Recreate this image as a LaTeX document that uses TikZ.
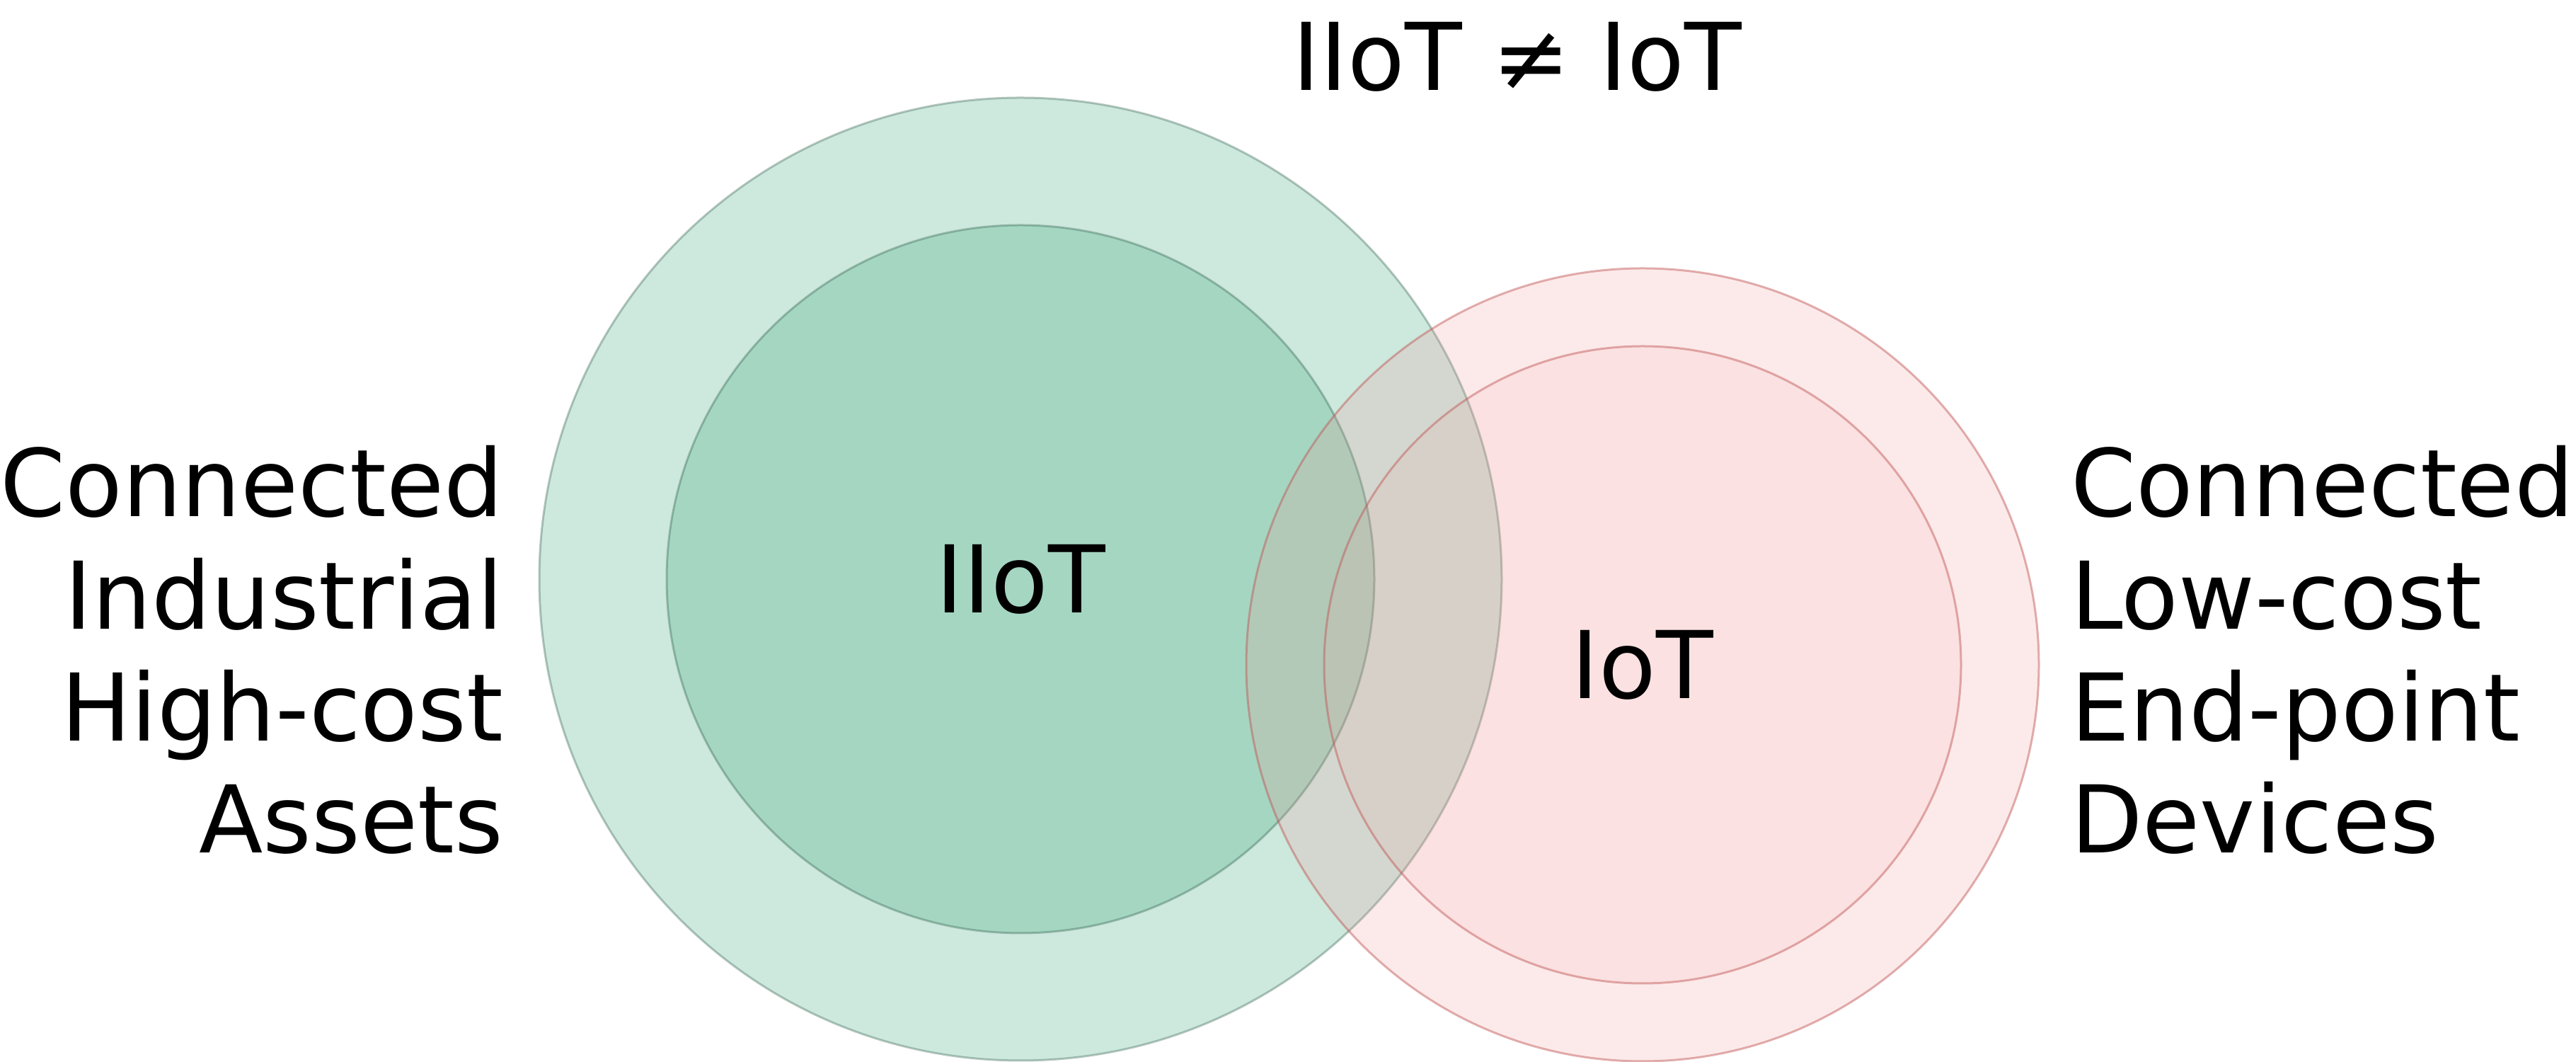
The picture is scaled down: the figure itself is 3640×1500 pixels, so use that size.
\documentclass[tikz,border=0pt]{standalone}
\usepackage{fontspec}
\setmainfont{DejaVu Sans}
\usepackage{xcolor}
\usepackage{tikz}
\usetikzlibrary{positioning}
\definecolor{iiotgreen}{RGB}{5,140,85}
\definecolor{iiotedge}{RGB}{20,70,50}
\definecolor{iotpink}{RGB}{240,150,150}
\definecolor{iotedge}{RGB}{190,80,80}
\tikzset{
  vennfont/.style={font=\fontsize{26.4pt}{31.68pt}\selectfont},
  vennlabel/.style={vennfont, inner sep=0pt},
  iiotdisc/.style={fill=iiotgreen, fill opacity=0.2, draw=iiotedge, draw opacity=0.3, line width=0.6pt},
  iotdisc/.style={fill=iotpink, fill opacity=0.2, draw=iotedge, draw opacity=0.45, line width=0.6pt},
}
\begin{document}
\begin{tikzpicture}[x=0.2pt, y=-0.2pt]
  \useasboundingbox (0,0) rectangle (3640,1500);
  % Centres of the two families of circles
  \coordinate (IIoTc) at (1442,818);
  \coordinate (IoTc) at (2321,939);

  % Discs
  \path[iiotdisc] (IIoTc) circle[radius=680];
  \path[iiotdisc] (IIoTc) circle[radius=500];
  \path[iotdisc] (IoTc) circle[radius=560];
  \path[iotdisc, fill opacity=0.11] (IoTc) circle[radius=450];

  % Labels
  \node[vennlabel, anchor=base] (title) at (2144,128) {IIoT ≠ IoT};
  \node[vennlabel, anchor=base] (iiot) at (IIoTc |- 0,866) {IIoT};
  \node[vennlabel, anchor=base] (iot) at (IoTc |- 0,987) {IoT};
  \node[vennlabel, anchor=base east, align=right] (assets) at (712,1205)
    {Connected\\Industrial\\High-cost\\Assets};
  \node[vennlabel, anchor=base west, align=left] (devices) at (2925,1205)
    {Connected\\Low-cost\\End-point\\Devices};
\end{tikzpicture}
\end{document}
